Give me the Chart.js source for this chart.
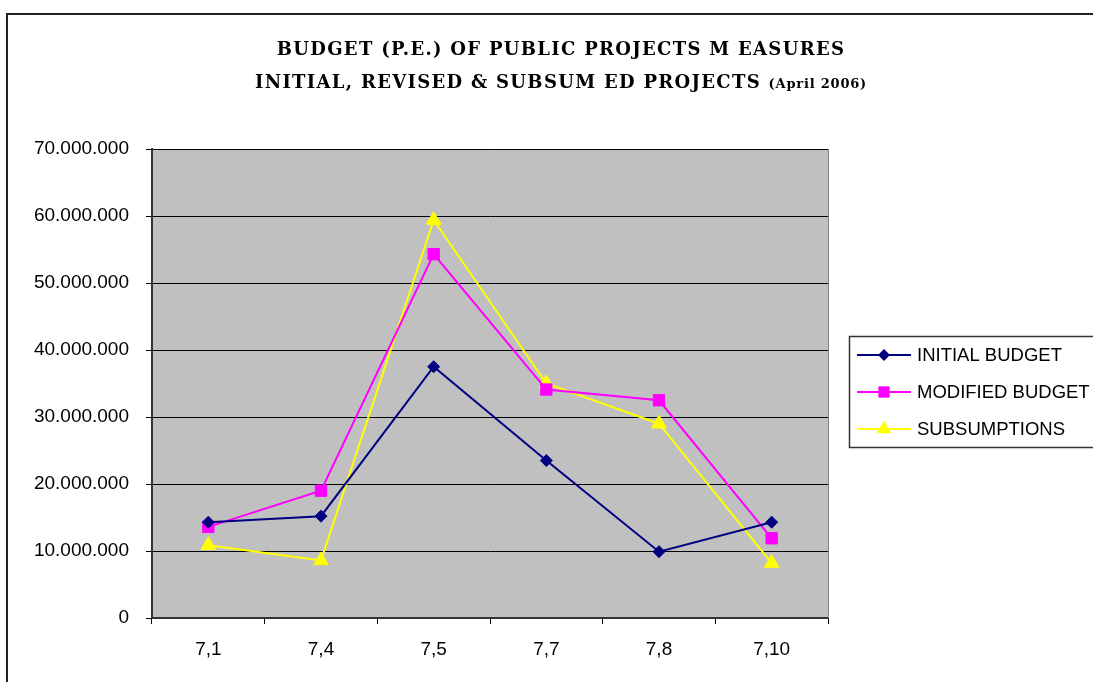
<!DOCTYPE html>
<html>
<head>
<meta charset="utf-8">
<title>Budget (P.E.) of public projects measures</title>
<script src="https://cdn.jsdelivr.net/npm/chart.js@4.4.1/dist/chart.umd.min.js"></script>
<style>
body { margin: 0; background: #fff; }
#wrap { width: 1093px; height: 682px; }
</style>
</head>
<body>
<div id="wrap"><canvas id="budgetChart" width="1093" height="682"></canvas></div>
<script>
// values (April 2006)
var categories = ['7,1', '7,4', '7,5', '7,7', '7,8', '7,10'];
var initialBudget = [14300000, 15200000, 37500000, 23500000, 9900000, 14300000];
var modifiedBudget = [13600000, 19000000, 54300000, 34100000, 32500000, 11900000];
var subsumptions = [10850000, 8600000, 59400000, 35000000, 29000000, 8200000];
var seriesNames = ['INITIAL BUDGET', 'MODIFIED BUDGET', 'SUBSUMPTIONS'];

var titleLine1 = 'BUDGET (P.E.) OF PUBLIC PROJECTS M EASURES';
var titleLine2 = 'INITIAL, REVISED & SUBSUM ED PROJECTS ';
var titleNote = '(April 2006)';

var yMin = 0;
var yMax = 70000000;
var yStep = 10000000;

var labelFont = '"Liberation Sans", Arial, sans-serif';
var titleFont = '"DejaVu Serif", "Liberation Serif", serif';

// 70000000 -> 70.000.000
function dotted(v) {
	return String(v).replace(/\B(?=(\d{3})+(?!\d))/g, '.');
}

function marker(ctx, style, x, y, r, color) {
	ctx.save();
	ctx.fillStyle = color;
	ctx.beginPath();
	if (style === 'rectRot') {
		ctx.moveTo(x - r, y);
		ctx.lineTo(x, y - r);
		ctx.lineTo(x + r, y);
		ctx.lineTo(x, y + r);
	} else if (style === 'rect') {
		var s = r * Math.SQRT1_2;
		ctx.rect(x - s, y - s, 2 * s, 2 * s);
	} else {
		ctx.moveTo(x, y - r);
		ctx.lineTo(x + r * 0.866, y + r / 2);
		ctx.lineTo(x - r * 0.866, y + r / 2);
	}
	ctx.closePath();
	ctx.fill();
	ctx.restore();
}

// background, outer frame and grey plot area
var excelBackdrop = {
	id: 'excelBackdrop',
	beforeDraw: function (chart) {
		var ctx = chart.ctx;
		var a = chart.chartArea;
		ctx.save();
		ctx.fillStyle = '#fff';
		ctx.fillRect(0, 0, chart.width, chart.height);
		ctx.strokeStyle = '#222';
		ctx.lineWidth = 2;
		ctx.strokeRect(7, 14, chart.width + 20, chart.height + 20);
		ctx.fillStyle = '#c0c0c0';
		ctx.fillRect(a.left, a.top, a.right - a.left, a.bottom - a.top);
		ctx.restore();
	},
	afterDraw: function (chart) {
		var ctx = chart.ctx;
		var a = chart.chartArea;
		ctx.save();
		// right edge of the plot area
		ctx.strokeStyle = '#808080';
		ctx.lineWidth = 1;
		ctx.beginPath();
		ctx.moveTo(a.right + 0.5, a.top);
		ctx.lineTo(a.right + 0.5, a.bottom);
		ctx.stroke();

		// two line title, second line ends with a smaller note
		var cx = 561;
		var big = 'bold 18px ' + titleFont;
		var small = 'bold 13px ' + titleFont;
		ctx.fillStyle = '#000';
		ctx.textBaseline = 'alphabetic';
		ctx.textAlign = 'left';
		ctx.letterSpacing = '1.3px';
		ctx.font = big;
		var w0 = ctx.measureText(titleLine1).width;
		ctx.fillText(titleLine1, cx - w0 / 2, 55);
		var w1 = ctx.measureText(titleLine2).width;
		ctx.letterSpacing = '0.8px';
		ctx.font = small;
		var w2 = ctx.measureText(titleNote).width;
		var x0 = cx - (w1 + w2) / 2;
		ctx.letterSpacing = '1.3px';
		ctx.font = big;
		ctx.fillText(titleLine2, x0, 88);
		ctx.letterSpacing = '0.8px';
		ctx.font = small;
		ctx.fillText(titleNote, x0 + w1, 88);
		ctx.letterSpacing = '0px';

		// legend box on the right
		ctx.fillStyle = '#fff';
		ctx.fillRect(849, 336, 260, 111);
		ctx.strokeStyle = '#333';
		ctx.lineWidth = 1.5;
		ctx.strokeRect(849.5, 336.5, 260, 111);
		ctx.font = '18.5px ' + labelFont;
		ctx.textBaseline = 'middle';
		chart.data.datasets.forEach(function (ds, i) {
			var y = 355 + i * 37;
			ctx.strokeStyle = ds.borderColor;
			ctx.lineWidth = 2;
			ctx.beginPath();
			ctx.moveTo(857, y);
			ctx.lineTo(911, y);
			ctx.stroke();
			marker(ctx, ds.pointStyle, 884, y, ds.pointRadius, ds.pointBackgroundColor);
			ctx.fillStyle = '#000';
			ctx.fillText(ds.label, 917, y + 1);
		});
		ctx.restore();
	}
};

function series(label, data, color, style, radius) {
	return {
		label: label,
		data: data,
		borderColor: color,
		backgroundColor: color,
		pointBackgroundColor: color,
		pointBorderColor: color,
		borderWidth: 2,
		tension: 0,
		pointStyle: style,
		pointRadius: radius,
		pointHoverRadius: radius,
		pointBorderWidth: 1
	};
}

var config = {
	type: 'line',
	data: {
		labels: categories,
		datasets: [
			series(seriesNames[0], initialBudget, '#000080', 'rectRot', 6),
			series(seriesNames[1], modifiedBudget, '#ff00ff', 'rect', 8),
			series(seriesNames[2], subsumptions, '#ffff00', 'triangle', 8.5)
		]
	},
	options: {
		responsive: false,
		animation: false,
		layout: {
			padding: { top: 149, right: 265, left: 0, bottom: 0 }
		},
		plugins: {
			legend: { display: false },
			title: { display: false },
			tooltip: { enabled: false }
		},
		scales: {
			x: {
				offset: true,
				afterFit: function (scale) { scale.height = 64; },
				grid: {
					offset: true,
					drawOnChartArea: false,
					tickLength: 6,
					tickColor: '#000',
					lineWidth: 1
				},
				border: { color: '#333', width: 2 },
				ticks: {
					color: '#000',
					padding: 14,
					maxRotation: 0,
					font: { family: labelFont, size: 19 }
				}
			},
			y: {
				min: yMin,
				max: yMax,
				afterFit: function (scale) { scale.width = 152; },
				grid: {
					color: '#000',
					lineWidth: 1,
					tickLength: 6,
					tickColor: '#000'
				},
				border: { color: '#333', width: 2 },
				ticks: {
					stepSize: yStep,
					color: '#000',
					padding: 17,
					font: { family: labelFont, size: 19 },
					callback: function (v) { return dotted(v); }
				}
			}
		}
	},
	plugins: [excelBackdrop]
};

var budgetChart = new Chart(document.getElementById('budgetChart'), config);
</script>
</body>
</html>
